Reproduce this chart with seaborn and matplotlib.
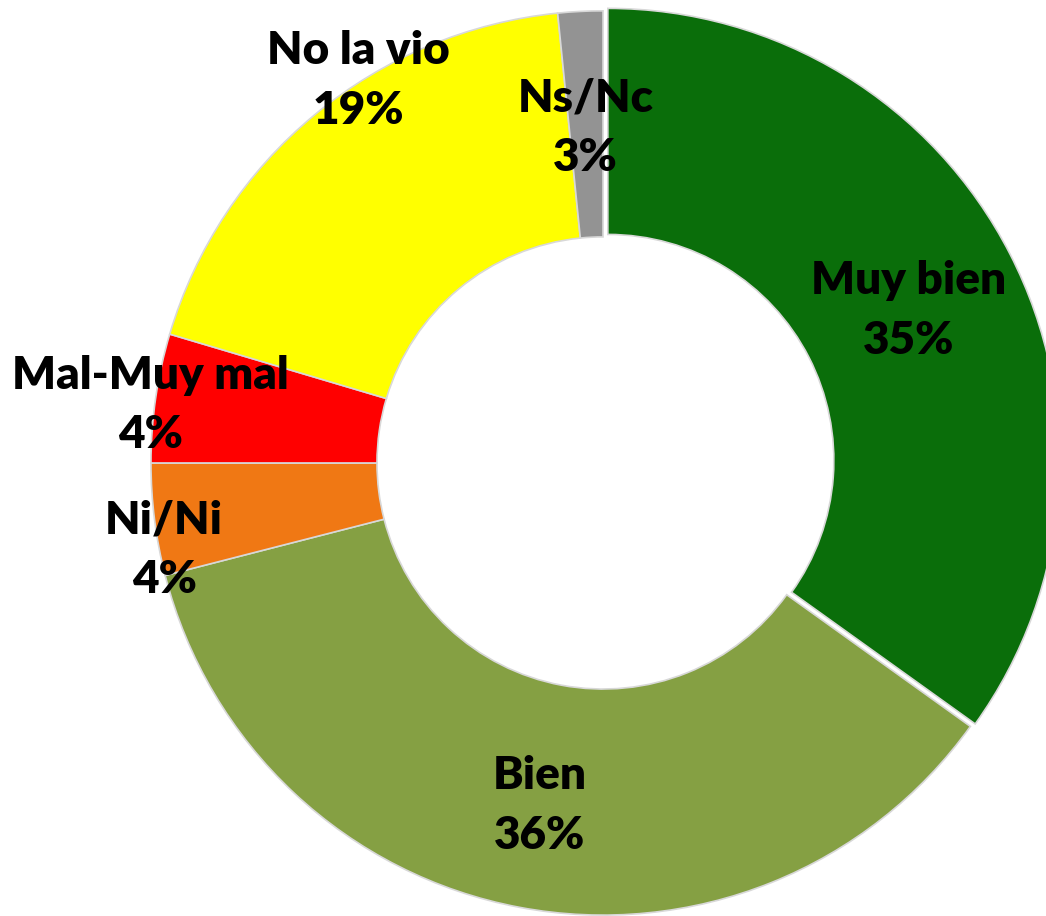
import numpy as np
import matplotlib.pyplot as plt
import seaborn as sns

sns.set_theme(style="white")
plt.rcParams['font.family'] = ['Lato', 'DejaVu Sans']

# datos (porcentajes)
categorias = ["Muy bien", "Bien", "Ni/Ni", "Mal-Muy mal", "No la vio", "Ns/Nc"]
valores = [34.9, 36.1, 4.0, 4.6, 18.8, 1.6]
etiquetas_pct = ["35%", "36%", "4%", "4%", "19%", "3%"]

colores = ["#0a6e0a", "#85a043", "#f07814", "#ff0000", "#ffff00", "#939393"]
explode = [0.012, 0, 0, 0, 0, 0]
# posición de etiquetas: radio y desplazamiento angular (grados)
lab_r = [0.755, 0.77, 0.99, 1.01, 1.005, 0.742]
lab_dang = [-0.6, 0.1, 4.0, 1.0, -7.0, 0.1]

fig = plt.figure(figsize=(10.46, 9.16), dpi=100)
ax = fig.add_axes([0, 0, 1, 1])

wedges, _ = ax.pie(valores, colors=colores, startangle=90, counterclock=False,
                   explode=explode, radius=1.0,
                   wedgeprops=dict(width=0.5, edgecolor="#d8d8d8", linewidth=1.2))

for w, cat, pct, r, da in zip(wedges, categorias, etiquetas_pct, lab_r, lab_dang):
    ang = np.deg2rad((w.theta1 + w.theta2) / 2 + da)
    ax.text(r * np.cos(ang), r * np.sin(ang), f"{cat}\n{pct}",
            ha="center", va="center", fontsize=33, fontweight="heavy",
            color="black", linespacing=1.55)

ax.set_xlim(-1.334, 0.980)
ax.set_ylim(-1.002, 1.024)
ax.set_aspect("auto")
ax.axis("off")

fig.savefig("out.png", dpi=100)
